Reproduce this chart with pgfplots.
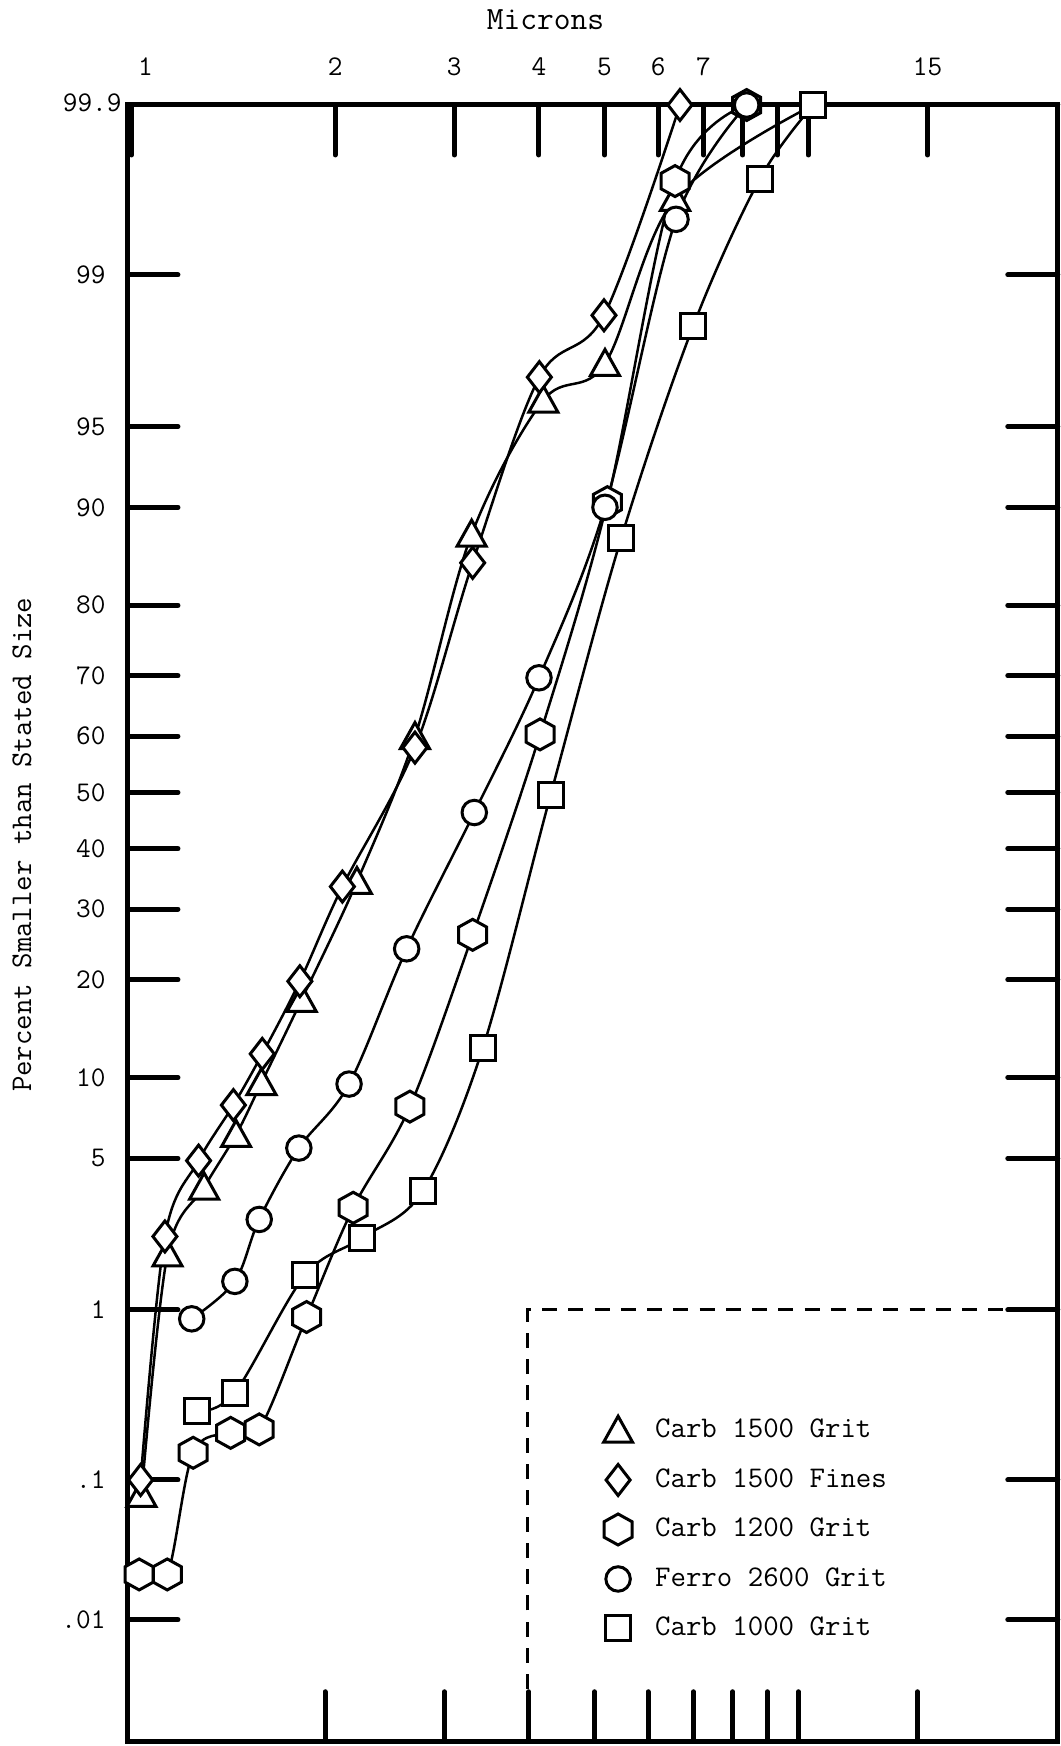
\documentclass[border=0pt]{standalone}
\usepackage{fontspec}
\usepackage{pgfplots}
\usepackage{pgfplotstable}
\pgfplotsset{compat=1.18}

% custom hand-drawn style marks (sizes fixed in pt)
\pgfdeclareplotmark{tri}{%
  \pgfpathmoveto{\pgfqpoint{-5.8pt}{-4.7pt}}%
  \pgfpathlineto{\pgfqpoint{5.8pt}{-4.7pt}}%
  \pgfpathlineto{\pgfqpoint{0pt}{5.7pt}}%
  \pgfpathclose\pgfusepathqfillstroke}
\pgfdeclareplotmark{dia}{%
  \pgfpathmoveto{\pgfqpoint{0pt}{6.2pt}}%
  \pgfpathlineto{\pgfqpoint{4.8pt}{0pt}}%
  \pgfpathlineto{\pgfqpoint{0pt}{-6.2pt}}%
  \pgfpathlineto{\pgfqpoint{-4.8pt}{0pt}}%
  \pgfpathclose\pgfusepathqfillstroke}
\pgfdeclareplotmark{hex}{%
  \pgfpathmoveto{\pgfqpoint{0pt}{6.2pt}}%
  \pgfpathlineto{\pgfqpoint{5.6pt}{3.1pt}}%
  \pgfpathlineto{\pgfqpoint{5.6pt}{-3.1pt}}%
  \pgfpathlineto{\pgfqpoint{0pt}{-6.2pt}}%
  \pgfpathlineto{\pgfqpoint{-5.6pt}{-3.1pt}}%
  \pgfpathlineto{\pgfqpoint{-5.6pt}{3.1pt}}%
  \pgfpathclose\pgfusepathqfillstroke}
\pgfdeclareplotmark{circ}{%
  \pgfpathcircle{\pgfpointorigin}{4.9pt}\pgfusepathqfillstroke}
\pgfdeclareplotmark{sq}{%
  \pgfpathrectangle{\pgfqpoint{-5pt}{-5pt}}{\pgfqpoint{10pt}{10pt}}\pgfusepathqfillstroke}

% x = microns, P = percent smaller than stated size
\pgfplotstableread{
x P
1.035 0.08
1.131 1.9
1.281 3.8
1.428 6.2
1.557 9.6
1.785 17.6
2.154 34.4
2.624 59.9
3.182 87.7
4.061 96.1
5.008 97.3
6.356 99.62
10.17 99.9
}\dataA
\pgfplotstableread{
x P
1.032 0.1
1.121 2.3
1.257 4.9
1.415 8.0
1.561 12.0
1.774 19.8
2.050 33.6
2.624 58.0
3.193 84.9
4.006 96.9
4.991 98.4
6.463 99.9
}\dataB
\pgfplotstableread{
x P
1.027 0.022
1.130 0.022
1.234 0.15
1.402 0.20
1.545 0.21
1.815 0.92
2.127 3.1
2.579 7.9
3.193 26.1
4.015 60.3
5.048 90.4
6.356 99.70
8.108 99.9
}\dataC
\pgfplotstableread{
x P
1.228 0.9
1.422 1.4
1.545 2.75
1.768 5.5
2.097 9.5
2.551 24.1
3.211 46.4
4.001 69.7
5.008 90.0
6.377 99.50
8.108 99.9
}\dataD
\pgfplotstableread{
x P
1.251 0.27
1.422 0.35
1.805 1.5
2.189 2.26
2.693 3.65
3.304 12.5
4.163 49.6
5.295 87.4
6.762 98.2
8.484 99.71
10.17 99.9
}\dataE

\begin{document}
\begin{tikzpicture}
\begin{axis}[
  scale only axis, width=371.9pt, height=654.7pt,
  xmode=log, xmin=0.9887, xmax=23.36, ymin=-4.267, ymax=3.0902,
  axis line style={line width=2pt, line cap=round},
  xtick={1,2,3,4,5,6,7,8,9,10,15},
  xticklabels={\hspace*{11.2pt}1,2,3,4,5,6,7,,,,15},
  ytick={-3.7190,-3.0902,-2.3263,-1.6449,-1.2816,-0.8416,-0.5244,-0.2533,0,0.2533,0.5244,0.8416,1.2816,1.6449,2.3263,3.0902},
  yticklabels={.01,.1,1,5,10,20,30,40,50,60,70,80,90,95,99,\raisebox{2pt}{99.9}\hspace*{-6.4pt}},
  xtick pos=right, ytick pos=both, xticklabel pos=right, yticklabel pos=left,
  tick align=inside, major tick length=20pt,
  tick style={line width=2pt, black, line cap=round},
  xticklabel style={anchor=center, inner sep=0pt, yshift=15.2pt, font=\ttfamily\fontsize{11.4}{13}\selectfont},
  yticklabel style={anchor=east, inner sep=0pt, xshift=-8.8pt, font=\ttfamily\fontsize{11.4}{13}\selectfont},
  xlabel={Microns},
  xlabel style={at={(rel axis cs:0.449,1.052)}, anchor=center, font=\ttfamily\fontsize{13}{15}\selectfont},
  ylabel={Percent Smaller than Stated Size},
  ylabel style={at={(rel axis cs:-0.114,0.548)}, anchor=center, font=\ttfamily\fontsize{12}{14}\selectfont},
  declare function={
    pq(\p)=min(\p,100-\p)/100;
    pt(\p)=sqrt(-2*ln(pq(\p)));
    pz(\p)=pt(\p)-(2.515517+0.802853*pt(\p)+0.010328*pt(\p)^2)/(1+1.432788*pt(\p)+0.189269*pt(\p)^2+0.001308*pt(\p)^3);
    probit(\p)=min(3.09,(\p<50 ? -pz(\p) : pz(\p)));
  },
  legend style={draw=none, fill=none, at={(rel axis cs:0.511,0.2056)}, anchor=north west,
    inner sep=0pt, row sep=0pt, column sep=9pt,
    nodes={inner sep=0pt, minimum height=19.8pt},
    font=\ttfamily\fontsize{12}{14}\selectfont},
  legend cell align=left,
  every axis plot/.append style={black},
]
% curves
\addplot[line width=1pt, smooth, tension=0.55, no marks, forget plot] table[x=x, y expr={probit(\thisrow{P})}] {\dataA};
\addplot[line width=1pt, smooth, tension=0.55, no marks, forget plot] table[x=x, y expr={probit(\thisrow{P})}] {\dataB};
\addplot[line width=1pt, smooth, tension=0.55, no marks, forget plot] table[x=x, y expr={probit(\thisrow{P})}] {\dataC};
\addplot[line width=1pt, smooth, tension=0.55, no marks, forget plot] table[x=x, y expr={probit(\thisrow{P})}] {\dataD};
\addplot[line width=1pt, smooth, tension=0.55, no marks, forget plot] table[x=x, y expr={probit(\thisrow{P})}] {\dataE};
% markers
\addplot[only marks, mark=tri, mark options={line width=1.2pt, fill=white, solid}, skip coords between index={12}{13}] table[x=x, y expr={probit(\thisrow{P})}] {\dataA};
\addlegendentry{Carb 1500 Grit}
\addplot[only marks, mark=dia, mark options={line width=1.2pt, fill=white, solid}] table[x=x, y expr={probit(\thisrow{P})}] {\dataB};
\addlegendentry{Carb 1500 Fines}
\addplot[only marks, mark=hex, mark options={line width=1.2pt, fill=white, solid}] table[x=x, y expr={probit(\thisrow{P})}] {\dataC};
\addlegendentry{Carb 1200 Grit}
\addplot[only marks, mark=circ, mark options={line width=1.2pt, fill=white, solid}] table[x=x, y expr={probit(\thisrow{P})}] {\dataD};
\addlegendentry{Ferro 2600 Grit}
\addplot[only marks, mark=sq, mark options={line width=1.2pt, fill=white, solid}] table[x=x, y expr={probit(\thisrow{P})}] {\dataE};
\addlegendentry{Carb 1000 Grit}
% dashed legend frame
\draw[line width=1.2pt, dash pattern=on 6pt off 4.5pt] (axis cs:3.85,-4.267) -- (axis cs:3.85,-2.3263) -- (axis cs:23.36,-2.3263);
% bottom ticks (slightly offset on the original sheet)
\pgfplotsinvokeforeach{1.933,2.900,3.866,4.833,5.799,6.766,7.733,8.699,9.666,14.50}{
  \draw[line width=2pt, line cap=round] (axis cs:#1,-4.267) -- ++(0pt,20pt);
}
\coordinate (bl) at (rel axis cs:0,0);
\coordinate (tr) at (rel axis cs:1,1);
\end{axis}
\pgfresetboundingbox
\path[use as bounding box] ([xshift=-51.2pt,yshift=-1.7pt]bl) rectangle ([xshift=0.9pt,yshift=42pt]tr);
\end{tikzpicture}
\end{document}
